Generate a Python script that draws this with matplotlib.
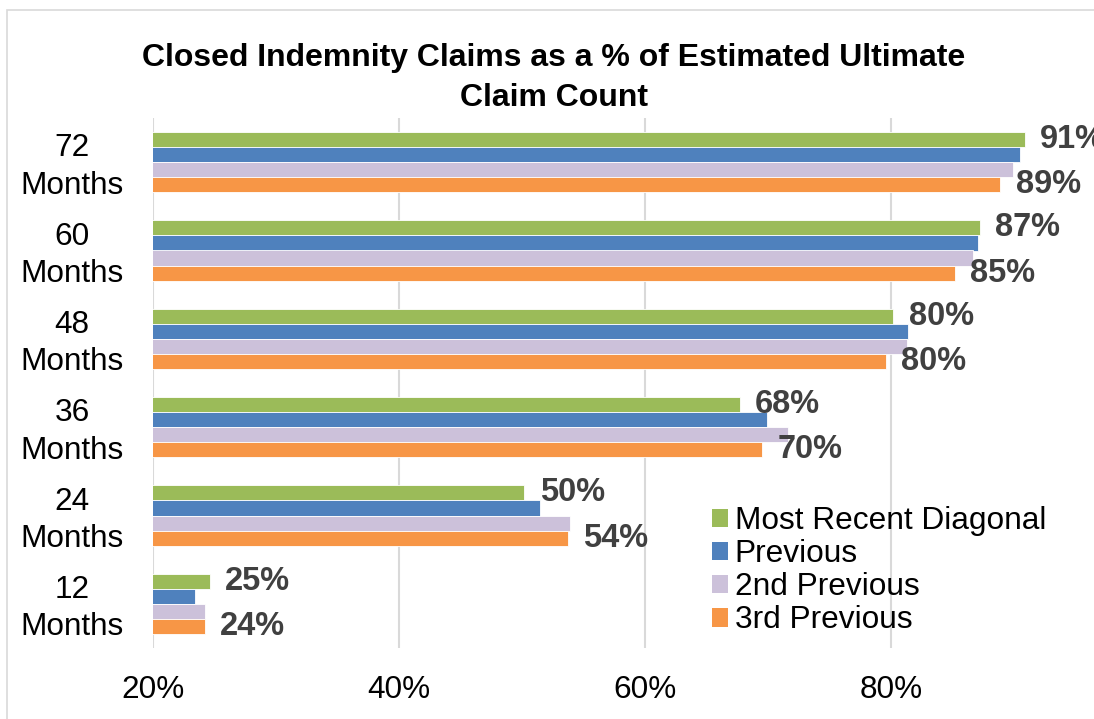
import matplotlib
matplotlib.use("Agg")
import matplotlib.pyplot as plt
from matplotlib.patches import Patch, Rectangle
import numpy as np

plt.rcParams['font.family'] = ['Liberation Sans', 'DejaVu Sans']

categories = ["12\nMonths", "24\nMonths", "36\nMonths", "48\nMonths", "60\nMonths", "72\nMonths"]
series_names = ["Most Recent Diagonal", "Previous", "2nd Previous", "3rd Previous"]
most_recent = [24.6, 50.2, 67.7, 80.2, 87.2, 90.9]
previous = [23.4, 51.5, 69.9, 81.4, 87.1, 90.5]
second_prev = [24.2, 53.9, 71.6, 81.3, 86.7, 89.9]
third_prev = [24.2, 53.7, 69.5, 79.6, 85.2, 88.9]
xticks = [20, 40, 60, 80]
colors = ["#9BBB59", "#4F81BD", "#CCC1DA", "#F79646"]

W, H = 1094, 719
fig = plt.figure(figsize=(W / 100, H / 100), dpi=100)
ax = fig.add_axes([153 / W, (H - 648) / H, (W - 153) / W, (648 - 118) / H])

series = [most_recent, previous, second_prev, third_prev]
y = np.arange(len(categories))
h = 15 / 88.33
offsets = [1.5 * h, 0.5 * h, -0.5 * h, -1.5 * h]
for vals, col, off, name in zip(series, colors, offsets, series_names):
    ax.barh(y + off, vals, height=h, color=col, edgecolor="white", linewidth=0.6, label=name, zorder=3)

for idx in (0, 3):
    vals = series[idx]
    for yi, v in zip(y, vals):
        ax.annotate(f"{round(v)}%", xy=(v, yi + offsets[idx]), xytext=(11, 0),
                    textcoords="offset points", ha="left", va="center",
                    fontsize=23.5, fontweight="bold", color="#404040", zorder=4,
                    annotation_clip=False)

ax.set_xlim(20, 20 + (W - 153) / 12.3)
ax.set_ylim(-0.5, 5.5)
ax.set_xticks(xticks)
ax.set_xticklabels([f"{t}%" for t in xticks], fontsize=22.7)
ax.set_yticks(y + 0.025)
ax.set_yticklabels(categories, fontsize=22.7, multialignment="center", linespacing=1.32)
ax.tick_params(axis="both", length=0)
ax.tick_params(axis="x", pad=19.5)
ax.tick_params(axis="y", pad=21)
ax.grid(axis="x", color="#D9D9D9", linewidth=1.5, zorder=0)
for s in ax.spines.values():
    s.set_visible(False)

fig.text(554 / W, 1 - 78 / H, "Closed Indemnity Claims as a % of Estimated Ultimate\nClaim Count",
         ha="center", va="center", fontsize=23, fontweight="bold", linespacing=1.42)

handles = [Patch(facecolor=c, edgecolor="none") for c in colors]
fig.legend(handles, series_names, loc="upper left", bbox_to_anchor=(712 / W, 1 - 506 / H),
           bbox_transform=fig.transFigure, frameon=False, fontsize=22.8, borderpad=0,
           borderaxespad=0, labelspacing=0.1, handlelength=0.52, handleheight=0.52,
           handletextpad=0.2)

fig.patches.append(Rectangle((7 / W, -0.1), 1.2, 1.1 - 10 / H, transform=fig.transFigure,
                             fill=False, edgecolor="#D9D9D9", linewidth=1.2))

fig.savefig("out.png", dpi=100)
